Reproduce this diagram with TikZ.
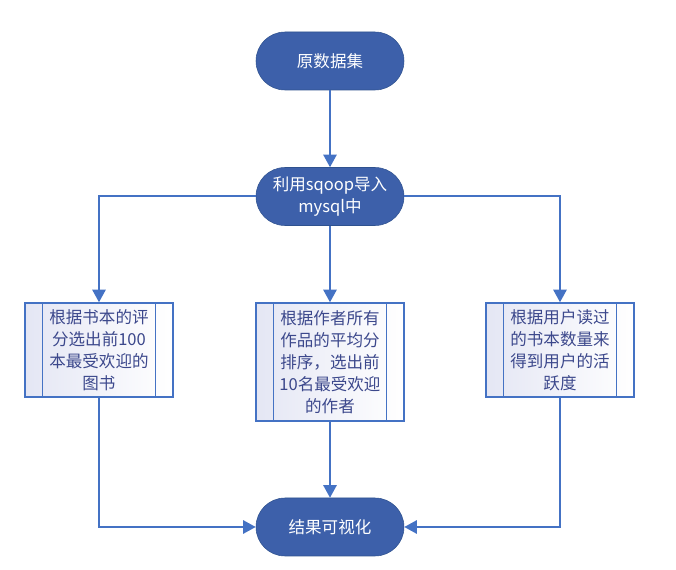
\documentclass[tikz,border=0pt]{standalone}
\usepackage{fontspec}
\setmainfont{Noto Sans CJK SC}
\usetikzlibrary{arrows.meta}
\definecolor{lineblue}{RGB}{68,114,196}
\definecolor{termfill}{RGB}{61,96,170}
\definecolor{termedge}{RGB}{47,82,143}
\definecolor{boxtext}{RGB}{60,72,140}
\definecolor{boxshade}{RGB}{228,230,244}

\begin{document}
\begin{tikzpicture}[x=0.75pt,y=-0.75pt,
        terminal/.style={draw=termedge,fill=termfill,text=white,rounded corners=21.7pt,minimum width=111pt,minimum height=43.5pt,inner sep=0pt,align=center,font=\fontsize{12.4}{16.5}\selectfont},
        procbox/.style={draw=lineblue,line width=1.1pt,left color=boxshade,right color=white,text=boxtext,minimum width=111pt,inner sep=0pt,align=center,font=\fontsize{12.4}{16.5}\selectfont},
        flow/.style={draw=lineblue,line width=1.5pt,-{Triangle[length=9.5pt,width=10pt]}}]
                \useasboundingbox (0,0) rectangle (676,570);

                \node[terminal] (src) at (330,61) {原数据集};
                \node[terminal] (sqoop) at (330,196.5) {利用sqoop导入\\mysql中};

                \node[procbox,minimum height=70.5pt] (book) at (99,350) {根据书本的评\\分选出前100\\本最受欢迎的\\图书};
                \node[procbox,minimum height=88.5pt] (author) at (330,362) {根据作者所有\\作品的平均分\\排序，选出前\\10名最受欢迎\\的作者};
                \node[procbox,minimum height=70.5pt] (user) at (560,350) {根据用户读过\\的书本数量来\\得到用户的活\\跃度};

                \node[terminal] (result) at (330,527) {结果可视化};

                \foreach \b in {book,author,user}{
                    \draw[lineblue,line width=1.1pt] ([xshift=13.5pt]\b.north west) -- ([xshift=13.5pt]\b.south west);
                    \draw[lineblue,line width=1.1pt] ([xshift=-13.5pt]\b.north east) -- ([xshift=-13.5pt]\b.south east);
                }

                \draw[flow] (src) -- (sqoop);
                \draw[flow] (sqoop.west) -| (book.north);
                \draw[flow] (sqoop.south) -- (author.north);
                \draw[flow] (sqoop.east) -| (user.north);

                \draw[flow] (book.south) |- (result.west);
                \draw[flow] (author.south) -- (result.north);
                \draw[flow] (user.south) |- (result.east);
            \end{tikzpicture}
\end{document}
